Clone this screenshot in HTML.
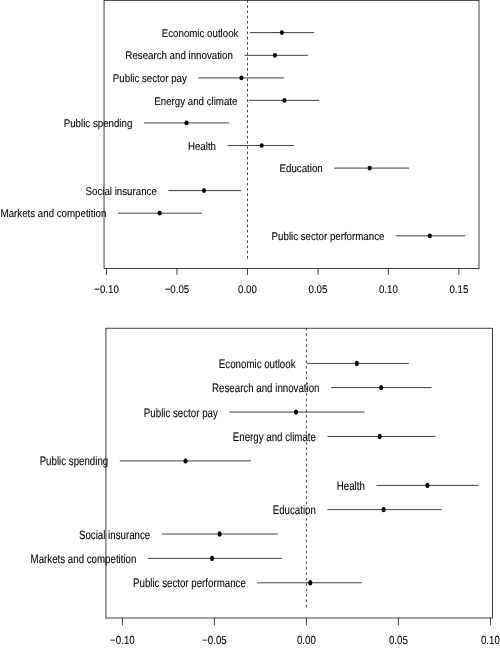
<!DOCTYPE html>
<html><head><meta charset="utf-8"><title>Plot</title>
<style>
html,body{margin:0;padding:0;background:#fff;}
body{width:500px;height:650px;overflow:hidden;}
svg{display:block;}
text{font-family:"Liberation Sans",sans-serif;fill:#000;stroke:#000;stroke-width:0.08px;text-rendering:geometricPrecision;}
line,rect{stroke:#000;stroke-width:0.75;}
ellipse{fill:#000;stroke:none;}
</style></head><body>
<svg width="500" height="650" viewBox="0 0 500 650">
<rect width="500" height="650" style="fill:#fff;stroke:none"/>
<line x1="247.5" y1="0.18" x2="247.5" y2="258.7" stroke-dasharray="2.5 2.721"/>
<rect x="104.05" y="0.3" width="374.95" height="268.10" fill="none"/>
<line x1="250" y1="32.60" x2="314.2" y2="32.60"/>
<ellipse cx="281.9" cy="32.60" rx="2.1" ry="2.35"/>
<text transform="translate(238.40 36.75) scale(0.8679 1)" font-size="11.2" text-anchor="end">Economic outlook</text>
<line x1="244.4" y1="55.30" x2="308.2" y2="55.30"/>
<ellipse cx="274.9" cy="55.30" rx="2.1" ry="2.35"/>
<text transform="translate(232.80 59.45) scale(0.8679 1)" font-size="11.2" text-anchor="end">Research and innovation</text>
<line x1="198.4" y1="77.90" x2="284" y2="77.90"/>
<ellipse cx="241.4" cy="77.90" rx="2.1" ry="2.35"/>
<text transform="translate(186.80 82.05) scale(0.8679 1)" font-size="11.2" text-anchor="end">Public sector pay</text>
<line x1="249.0" y1="100.40" x2="319.1" y2="100.40"/>
<ellipse cx="284.5" cy="100.40" rx="2.1" ry="2.35"/>
<text transform="translate(237.40 104.55) scale(0.8679 1)" font-size="11.2" text-anchor="end">Energy and climate</text>
<line x1="143.9" y1="122.90" x2="229.1" y2="122.90"/>
<ellipse cx="186.5" cy="122.90" rx="2.1" ry="2.35"/>
<text transform="translate(132.30 127.05) scale(0.8679 1)" font-size="11.2" text-anchor="end">Public spending</text>
<line x1="227.6" y1="145.50" x2="293.9" y2="145.50"/>
<ellipse cx="261.7" cy="145.50" rx="2.1" ry="2.35"/>
<text transform="translate(216.00 149.65) scale(0.8679 1)" font-size="11.2" text-anchor="end">Health</text>
<line x1="334.3" y1="168.10" x2="409.1" y2="168.10"/>
<ellipse cx="369.7" cy="168.10" rx="2.1" ry="2.35"/>
<text transform="translate(322.70 172.25) scale(0.8679 1)" font-size="11.2" text-anchor="end">Education</text>
<line x1="168.4" y1="190.60" x2="241" y2="190.60"/>
<ellipse cx="204.0" cy="190.60" rx="2.1" ry="2.35"/>
<text transform="translate(156.80 194.75) scale(0.8679 1)" font-size="11.2" text-anchor="end">Social insurance</text>
<line x1="118" y1="213.20" x2="201.9" y2="213.20"/>
<ellipse cx="159.7" cy="213.20" rx="2.1" ry="2.35"/>
<text transform="translate(106.40 217.35) scale(0.8679 1)" font-size="11.2" text-anchor="end">Markets and competition</text>
<line x1="396" y1="235.80" x2="465.3" y2="235.80"/>
<ellipse cx="429.8" cy="235.80" rx="2.1" ry="2.35"/>
<text transform="translate(384.40 239.95) scale(0.8679 1)" font-size="11.2" text-anchor="end">Public sector performance</text>
<line x1="106.50" y1="268.4" x2="106.50" y2="274.90"/>
<text transform="translate(106.50 292.65) scale(0.8679 1)" font-size="11.2" text-anchor="middle">−0.10</text>
<line x1="176.98" y1="268.4" x2="176.98" y2="274.90"/>
<text transform="translate(176.98 292.65) scale(0.8679 1)" font-size="11.2" text-anchor="middle">−0.05</text>
<line x1="247.46" y1="268.4" x2="247.46" y2="274.90"/>
<text transform="translate(247.46 292.65) scale(0.8679 1)" font-size="11.2" text-anchor="middle">0.00</text>
<line x1="317.94" y1="268.4" x2="317.94" y2="274.90"/>
<text transform="translate(317.94 292.65) scale(0.8679 1)" font-size="11.2" text-anchor="middle">0.05</text>
<line x1="388.42" y1="268.4" x2="388.42" y2="274.90"/>
<text transform="translate(388.42 292.65) scale(0.8679 1)" font-size="11.2" text-anchor="middle">0.10</text>
<line x1="458.90" y1="268.4" x2="458.90" y2="274.90"/>
<text transform="translate(458.90 292.65) scale(0.8679 1)" font-size="11.2" text-anchor="middle">0.15</text>
<line x1="306.4" y1="327.97" x2="306.4" y2="607.7" stroke-dasharray="2.5 2.932"/>
<rect x="105.9" y="328.2" width="386.50" height="289.80" fill="none"/>
<line x1="307.1" y1="363.40" x2="408.8" y2="363.40"/>
<ellipse cx="356.8" cy="363.40" rx="2.1" ry="2.65"/>
<text transform="translate(295.50 367.90) scale(0.7967 1)" font-size="12.2" text-anchor="end">Economic outlook</text>
<line x1="331.1" y1="387.60" x2="431.6" y2="387.60"/>
<ellipse cx="381.2" cy="387.60" rx="2.1" ry="2.65"/>
<text transform="translate(319.50 392.10) scale(0.7967 1)" font-size="12.2" text-anchor="end">Research and innovation</text>
<line x1="229.4" y1="412.05" x2="364.7" y2="412.05"/>
<ellipse cx="296" cy="412.05" rx="2.1" ry="2.65"/>
<text transform="translate(217.80 416.55) scale(0.7967 1)" font-size="12.2" text-anchor="end">Public sector pay</text>
<line x1="327.5" y1="436.50" x2="435.5" y2="436.50"/>
<ellipse cx="379.7" cy="436.50" rx="2.1" ry="2.65"/>
<text transform="translate(315.90 441.00) scale(0.7967 1)" font-size="12.2" text-anchor="end">Energy and climate</text>
<line x1="119.8" y1="460.90" x2="251" y2="460.90"/>
<ellipse cx="185.5" cy="460.90" rx="2.1" ry="2.65"/>
<text transform="translate(108.20 465.40) scale(0.7967 1)" font-size="12.2" text-anchor="end">Public spending</text>
<line x1="376.4" y1="485.40" x2="478.4" y2="485.40"/>
<ellipse cx="427.4" cy="485.40" rx="2.1" ry="2.65"/>
<text transform="translate(364.80 489.90) scale(0.7967 1)" font-size="12.2" text-anchor="end">Health</text>
<line x1="327.5" y1="509.60" x2="441.5" y2="509.60"/>
<ellipse cx="383.6" cy="509.60" rx="2.1" ry="2.65"/>
<text transform="translate(315.90 514.10) scale(0.7967 1)" font-size="12.2" text-anchor="end">Education</text>
<line x1="161.8" y1="534.00" x2="277.8" y2="534.00"/>
<ellipse cx="219.6" cy="534.00" rx="2.1" ry="2.65"/>
<text transform="translate(150.20 538.50) scale(0.7967 1)" font-size="12.2" text-anchor="end">Social insurance</text>
<line x1="148" y1="558.40" x2="281.7" y2="558.40"/>
<ellipse cx="212.1" cy="558.40" rx="2.1" ry="2.65"/>
<text transform="translate(136.40 562.90) scale(0.7967 1)" font-size="12.2" text-anchor="end">Markets and competition</text>
<line x1="257.4" y1="582.77" x2="361.8" y2="582.77"/>
<ellipse cx="310.3" cy="582.77" rx="2.1" ry="2.65"/>
<text transform="translate(245.80 587.27) scale(0.7967 1)" font-size="12.2" text-anchor="end">Public sector performance</text>
<line x1="122.40" y1="618.0" x2="122.40" y2="625.40"/>
<text transform="translate(122.40 644.05) scale(0.8308 1)" font-size="11.7" text-anchor="middle">−0.10</text>
<line x1="214.40" y1="618.0" x2="214.40" y2="625.40"/>
<text transform="translate(214.40 644.05) scale(0.8308 1)" font-size="11.7" text-anchor="middle">−0.05</text>
<line x1="306.40" y1="618.0" x2="306.40" y2="625.40"/>
<text transform="translate(306.40 644.05) scale(0.8308 1)" font-size="11.7" text-anchor="middle">0.00</text>
<line x1="398.40" y1="618.0" x2="398.40" y2="625.40"/>
<text transform="translate(398.40 644.05) scale(0.8308 1)" font-size="11.7" text-anchor="middle">0.05</text>
<line x1="490.40" y1="618.0" x2="490.40" y2="625.40"/>
<text transform="translate(490.40 644.05) scale(0.8308 1)" font-size="11.7" text-anchor="middle">0.10</text>
</svg>
</body></html>
